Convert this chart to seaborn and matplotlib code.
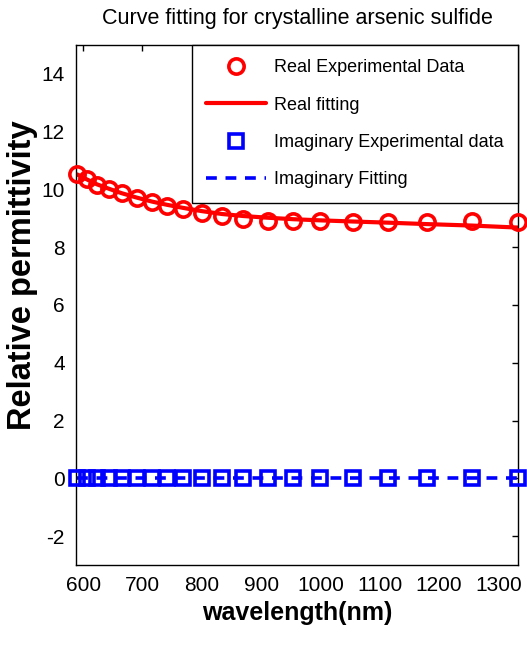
import matplotlib
matplotlib.use("Agg")
import matplotlib.pyplot as plt
import seaborn as sns
import pandas as pd
from matplotlib.lines import Line2D

# wavelength samples (nm)
wavelength = [590, 606, 623, 644, 665, 690, 716, 741, 769, 800,
              834, 870, 912, 954, 1000, 1055, 1114, 1180, 1255, 1333]
# measured real part of the relative permittivity
real_exp = [10.52, 10.37, 10.14, 10.00, 9.87, 9.72, 9.55, 9.43, 9.32, 9.18,
            9.09, 8.98, 8.92, 8.92, 8.90, 8.88, 8.88, 8.88, 8.90, 8.88]
# fitted real part
real_fit = [10.52, 10.35, 10.18, 10.02, 9.87, 9.72, 9.58, 9.47, 9.36, 9.25,
            9.15, 9.08, 9.02, 8.97, 8.93, 8.89, 8.85, 8.80, 8.75, 8.68]
# measured and fitted imaginary part
imag_exp = [0.0] * len(wavelength)
imag_fit = [0.0] * len(wavelength)

legend_labels = ["Real Experimental Data", "Real fitting",
                 "Imaginary Experimental data", "Imaginary Fitting"]
x_ticks = [600, 700, 800, 900, 1000, 1100, 1200, 1300]
y_ticks = [-2, 0, 2, 4, 6, 8, 10, 12, 14]

df = pd.DataFrame({"wavelength": wavelength, "real_exp": real_exp,
                   "real_fit": real_fit, "imag_exp": imag_exp,
                   "imag_fit": imag_fit})

sns.set_theme(style="white")
plt.rcParams["font.family"] = ["Liberation Sans", "DejaVu Sans"]
plt.rcParams["axes.unicode_minus"] = False
plt.rcParams["text.color"] = "black"
plt.rcParams["axes.labelcolor"] = "black"

fig = plt.figure(figsize=(5.27, 6.51), dpi=100)
ax = fig.add_axes([76 / 527, 86 / 651, 442 / 527, 520 / 651])

red = "#ff0000"
blue = "#0000ff"
dash = (0, (3.0, 2.4))

sns.lineplot(data=df, x="wavelength", y="real_fit", ax=ax, color=red,
             lw=3, zorder=2)
sns.lineplot(data=df, x="wavelength", y="real_exp", ax=ax, linestyle="none",
             marker="o", markersize=11, markerfacecolor="none",
             markeredgecolor=red, markeredgewidth=2.6, zorder=3,
             clip_on=False)
sns.lineplot(data=df, x="wavelength", y="imag_fit", ax=ax, color=blue,
             lw=2.6, linestyle=dash, zorder=2)
sns.lineplot(data=df, x="wavelength", y="imag_exp", ax=ax, linestyle="none",
             marker="s", markersize=10, markerfacecolor="none",
             markeredgecolor=blue, markeredgewidth=2.6, zorder=3,
             clip_on=False)

ax.set_xlim(588, 1333)
ax.set_ylim(-3, 15)
ax.set_xticks(x_ticks)
ax.set_yticks(y_ticks)
ax.tick_params(direction="in", length=4, width=1, top=True, right=True,
               labelsize=15, colors="black", pad=8)
for s in ax.spines.values():
    s.set_color("black")
    s.set_linewidth(1)

ax.set_title("Curve fitting for crystalline arsenic sulfide", fontsize=15.5,
             pad=15, color="black")
ax.set_xlabel("wavelength(nm)", fontsize=18, fontweight="bold", labelpad=4)
ax.set_ylabel("Relative permittivity", fontsize=23.5, fontweight="bold")
ax.yaxis.set_label_coords(-0.085, 0.558)

handles = [
    Line2D([], [], linestyle="none", marker="o", markersize=11,
           markerfacecolor="none", markeredgecolor=red, markeredgewidth=2.6),
    Line2D([], [], color=red, lw=3),
    Line2D([], [], linestyle="none", marker="s", markersize=10,
           markerfacecolor="none", markeredgecolor=blue, markeredgewidth=2.6),
    Line2D([], [], color=blue, lw=2.6, linestyle=dash),
]
leg = ax.legend(handles, legend_labels, loc="upper right", fontsize=13,
                frameon=True, fancybox=False, framealpha=1,
                edgecolor="black", borderaxespad=0, handlelength=3.3,
                labelspacing=1.12, borderpad=0.8, handletextpad=0.45,
                labelcolor="black")
leg.get_frame().set_linewidth(1)
leg.set_zorder(5)

fig.savefig("out.png", dpi=100)
